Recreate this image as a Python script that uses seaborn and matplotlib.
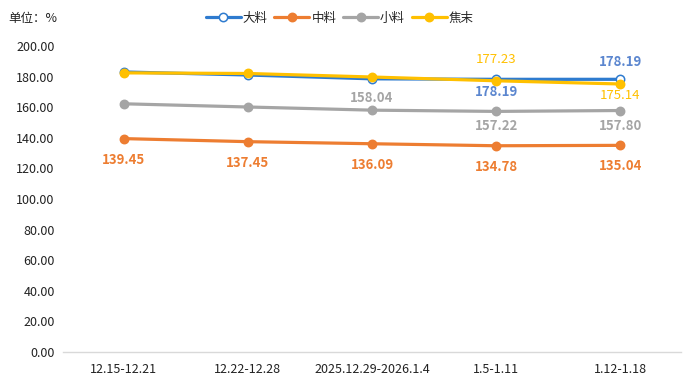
import matplotlib
matplotlib.use("Agg")
import matplotlib.pyplot as plt
import seaborn as sns
import pandas as pd
from matplotlib.lines import Line2D

categories = ["12.15-12.21", "12.22-12.28", "2025.12.29-2026.1.4", "1.5-1.11", "1.12-1.18"]
series_names = ["大料", "中料", "小料", "焦末"]
da_liao = [183.0, 181.0, 178.5, 178.19, 178.19]
zhong_liao = [139.45, 137.45, 136.09, 134.78, 135.04]
xiao_liao = [162.2, 160.1, 158.04, 157.22, 157.80]
jiao_mo = [182.4, 182.0, 179.7, 177.23, 175.14]
yticks = [0, 20, 40, 60, 80, 100, 120, 140, 160, 180, 200]

colors = {"大料": "#2E7BCF", "中料": "#ED7D31", "小料": "#A5A5A5", "焦末": "#FFC000"}
label_colors = {"大料": "#5B86CF", "中料": "#ED7D31", "小料": "#A5A5A5", "焦末": "#FFC000"}

sns.set_theme(style="white")
plt.rcParams["font.family"] = ["Noto Sans CJK SC", "DejaVu Sans"]

values = {"大料": da_liao, "中料": zhong_liao, "小料": xiao_liao, "焦末": jiao_mo}
rows = []
for s in series_names:
    for i, c in enumerate(categories):
        rows.append({"x": i, "cat": c, "series": s, "value": values[s][i]})
df = pd.DataFrame(rows)

fig = plt.figure(figsize=(6.92, 3.86), dpi=100)
ax = fig.add_axes([0.091, 0.088, 0.893, 0.793])

LW = 2.3
MS = 6.0
for s in series_names:
    sub = df[df.series == s]
    mfc = "white" if s == "大料" else colors[s]
    sns.lineplot(data=sub, x="x", y="value", ax=ax, color=colors[s], linewidth=LW,
                 marker="o", markersize=MS, markerfacecolor=mfc,
                 markeredgecolor=colors[s], markeredgewidth=1.1, label=s, legend=False)

# data labels: (series, index, offset_px_y, bold)
labels = [
    ("大料", 3, -13, True), ("大料", 4, 17, True),
    ("中料", 0, -21, True), ("中料", 1, -21, True), ("中料", 2, -21, True),
    ("中料", 3, -21, True), ("中料", 4, -21, True),
    ("小料", 2, 12, True), ("小料", 3, -15, True), ("小料", 4, -15, True),
    ("焦末", 3, 21, False), ("焦末", 4, -12, False),
]
for s, i, dy, bold in labels:
    ax.annotate(f"{values[s][i]:.2f}", (i, values[s][i]), xytext=(0, dy * 0.72),
                textcoords="offset points", ha="center", va="center",
                fontsize=9.5, color=label_colors[s],
                fontweight="bold" if bold else "normal")

ax.set_xlim(-0.49, 4.49)
ax.set_ylim(0, 200)
ax.set_yticks(yticks)
ax.set_yticklabels([f"{v:.2f}" for v in yticks], fontsize=9, color="#222222")
ax.set_xticks(range(len(categories)))
ax.set_xticklabels(categories, fontsize=9, color="#222222")
ax.tick_params(axis="y", length=0, pad=6)
ax.tick_params(axis="x", length=0, pad=8)
ax.set_xlabel("")
ax.set_ylabel("")
for sp in ["top", "right", "left"]:
    ax.spines[sp].set_visible(False)
ax.spines["bottom"].set_color("#D9D9D9")
ax.spines["bottom"].set_linewidth(1)

fig.text(0.012, 0.953, "单位：%", fontsize=9, color="#222222", va="center", ha="left")

handles = [Line2D([0], [0], color=colors[s], linewidth=LW, marker="o", markersize=MS,
                  markerfacecolor=("white" if s == "大料" else colors[s]),
                  markeredgecolor=colors[s], markeredgewidth=1.1) for s in series_names]
fig.legend(handles, series_names, loc="center", bbox_to_anchor=(0.491, 0.953), ncol=4,
           frameon=False, fontsize=9, handlelength=2.8, handletextpad=0.15,
           columnspacing=0.55, borderpad=0.1)

fig.savefig("out.png", dpi=100)
